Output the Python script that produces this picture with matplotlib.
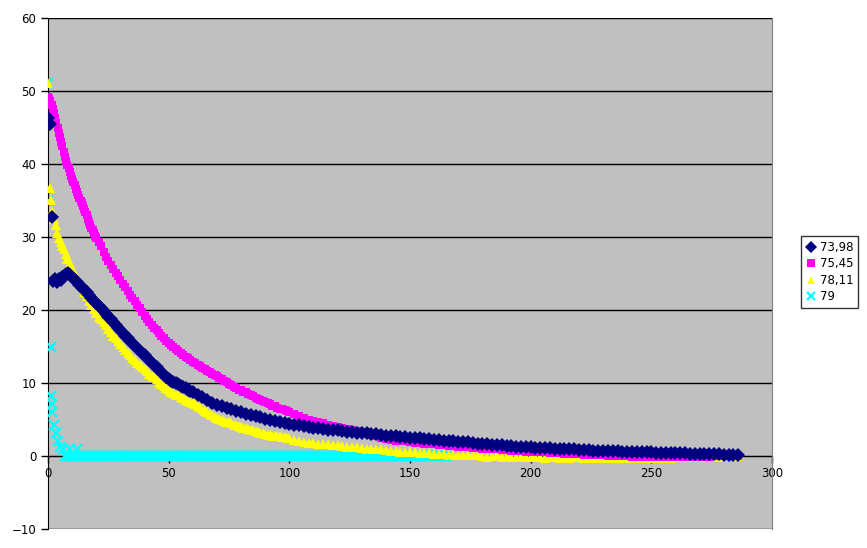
import numpy as np
import matplotlib
matplotlib.use('Agg')
import matplotlib.pyplot as plt

# ---- data ----
labels = ['73,98', '75,45', '78,11', '79']

# series 73,98 (navy): dense start, x=10..60 every 1, then every 2
navy_x_start = [0, 0.8, 1.5, 2.2, 3.0, 3.7, 4.4, 5.2, 6.0, 6.8, 7.5, 8.3, 9.1]
navy_y_start = [46.3, 45.5, 32.8, 24.0, 24.3, 23.9, 24.3, 24.1, 24.5, 24.7, 24.9, 25.1, 24.8]
navy_y_mid = [24.5, 24.15, 23.8, 23.45, 23.1, 22.75, 22.4, 22.0, 21.6, 21.25,
              20.9, 20.6, 20.3, 19.9, 19.5, 19.1, 18.7, 18.3, 17.9, 17.55,
              17.2, 16.85, 16.5, 16.15, 15.8, 15.45, 15.1, 14.75, 14.4, 14.1,
              13.8, 13.45, 13.1, 12.8, 12.5, 12.15, 11.8, 11.45, 11.1, 10.8,
              10.5, 10.3, 10.1, 9.95, 9.8, 9.65, 9.5, 9.3, 9.1, 8.95,
              8.8]
navy_y = [8.4, 8.1, 7.7, 7.3,
          7.0, 6.8, 6.6, 6.4, 6.2, 6.0, 5.8, 5.65, 5.5, 5.3,
          5.1, 5.0, 4.8, 4.7, 4.5, 4.4, 4.3, 4.2, 4.1, 4.0,
          3.9, 3.8, 3.7, 3.6, 3.55, 3.5, 3.4, 3.35, 3.3, 3.2,
          3.15, 3.1, 3.0, 2.95, 2.9, 2.8, 2.75, 2.7, 2.6, 2.55,
          2.5, 2.45, 2.4, 2.35, 2.3, 2.2, 2.15, 2.1, 2.05, 2.0,
          1.95, 1.9, 1.85, 1.8, 1.7, 1.65, 1.6, 1.55, 1.5, 1.45,
          1.4, 1.35, 1.3, 1.3, 1.25, 1.2, 1.15, 1.1, 1.1, 1.05,
          1.0, 1.0, 0.95, 0.9, 0.9, 0.85, 0.8, 0.8, 0.75, 0.75,
          0.7, 0.7, 0.65, 0.65, 0.6, 0.6, 0.55, 0.55, 0.5, 0.5,
          0.5, 0.45, 0.45, 0.4, 0.4, 0.4, 0.35, 0.35, 0.3, 0.3,
          0.3, 0.3, 0.25, 0.25, 0.25, 0.2, 0.2, 0.2, 0.2]

# series 75,45 (magenta): x=0..20 every 0.5, x=21..100 every 1, then every 2
magenta_y_start = [49.2, 48.9, 48.6, 48.1, 47.6, 47.0, 46.3, 45.6, 45.0, 44.3,
                   43.7, 43.0, 42.4, 41.7, 41.0, 40.4, 39.9, 39.4, 38.9, 38.4,
                   38.0, 37.5, 37.1, 36.6, 36.2, 35.8, 35.4, 35.0, 34.6, 34.2,
                   33.8, 33.4, 33.0, 32.5, 32.1, 31.7, 31.3, 30.9, 30.6, 30.2,
                   29.9]
magenta_y_mid = [29.3, 28.7, 28.0, 27.3, 26.7, 26.2, 25.6, 25.1, 24.6, 24.1,
                 23.6, 23.1, 22.6, 22.1, 21.6, 21.2, 20.7, 20.3, 19.7, 19.2,
                 18.8, 18.4, 18.0, 17.6, 17.2, 16.8, 16.4, 16.1, 15.8, 15.5,
                 15.2, 15.0, 14.7, 14.4, 14.1, 13.9, 13.6, 13.4, 13.1, 12.9,
                 12.7, 12.5, 12.3, 12.1, 11.9, 11.7, 11.5, 11.3, 11.1, 10.9,
                 10.7, 10.5, 10.3, 10.1, 9.9, 9.7, 9.5, 9.3, 9.1, 9.0,
                 8.8, 8.7, 8.5, 8.4, 8.2, 8.0, 7.8, 7.7, 7.5, 7.4,
                 7.2, 7.1, 6.9, 6.8, 6.6, 6.5, 6.4, 6.3, 6.1, 6.0]
magenta_y = [5.7, 5.5, 5.2, 5.0, 4.8, 4.6, 4.5, 4.3, 4.1,
             4.0, 3.8, 3.7, 3.5, 3.4, 3.2, 3.1, 2.9, 2.7, 2.5,
             2.3, 2.2, 2.1, 2.0, 2.0, 1.9, 1.8, 1.8, 1.7, 1.6,
             1.6, 1.5, 1.5, 1.4, 1.4, 1.3, 1.3, 1.2, 1.1, 1.1,
             1.0, 1.0, 0.9, 0.9, 0.8, 0.8, 0.7, 0.7, 0.7, 0.6,
             0.6, 0.5, 0.5, 0.5, 0.4, 0.4, 0.4, 0.3, 0.3, 0.3,
             0.3, 0.2, 0.2, 0.1, 0.1, 0.1, 0.0, 0.0, 0.0, 0.0,
             0.0, -0.1, -0.1, -0.1, -0.1, -0.1, -0.2, -0.2, -0.2, -0.2,
             -0.2, -0.2, -0.2, -0.1, -0.1, -0.1, -0.1, -0.1, 0.0, 0.0,
             0.0, 0.0, 0.0, 0.0]

# series 78,11 (yellow): dense start, x=10..100 every 1, then every 2
yellow_x_start = [0, 0.7, 1.1, 1.8, 2.5, 3.2, 3.9, 4.6, 5.3, 6.0, 6.6, 7.3, 8.0, 9.0]
yellow_y_start = [51.1, 36.7, 35.1, 33.5, 32.4, 31.6, 30.6, 29.9, 29.3, 28.8, 28.3, 27.7, 27.0, 26.4]
yellow_y_mid = [25.6, 24.9, 24.3, 23.7, 23.1, 22.5, 21.9, 21.3, 20.7, 20.1,
                19.6, 19.1, 18.7, 18.3, 17.9, 17.4, 17.0, 16.5, 16.1, 15.7,
                15.3, 14.9, 14.5, 14.1, 13.8, 13.4, 13.1, 12.8, 12.5, 12.2,
                11.9, 11.6, 11.3, 11.0, 10.8, 10.5, 10.2, 9.9, 9.6, 9.3,
                9.0, 8.8, 8.6, 8.4, 8.3, 8.1, 7.9, 7.7, 7.6, 7.4,
                7.3, 7.1, 6.9, 6.7, 6.5, 6.2, 6.0, 5.8, 5.6, 5.4,
                5.2, 5.1, 5.0, 4.8, 4.7, 4.6, 4.5, 4.3, 4.2, 4.1,
                4.0, 3.9, 3.8, 3.7, 3.6, 3.5, 3.4, 3.3, 3.2, 3.1,
                3.0, 2.9, 2.9, 2.8, 2.8, 2.7, 2.7, 2.6, 2.6, 2.5,
                2.4]
yellow_y = [2.2, 2.0, 1.9, 1.8,
            1.8, 1.7, 1.7, 1.6, 1.5, 1.5, 1.4, 1.3, 1.3, 1.2,
            1.1, 1.0, 1.0, 0.9, 0.9, 0.8, 0.7, 0.7, 0.6, 0.6,
            0.5, 0.5, 0.4, 0.4, 0.4, 0.3, 0.3, 0.3, 0.2, 0.2,
            0.2, 0.1, 0.1, 0.1, 0.1, 0.0, -0.1, 0.0, 0.1, -0.1,
            0.0, -0.2, -0.1, 0.0, -0.2, -0.1, -0.2, -0.1, -0.3, -0.2,
            -0.1, -0.3, -0.2, -0.3, -0.1, -0.2, -0.3, -0.2, -0.3, -0.3,
            -0.2, -0.3, -0.2, -0.3, -0.2, -0.3, -0.2, -0.3, -0.3, -0.2,
            -0.3, -0.2, -0.3, -0.2, -0.3, -0.2, -0.1, 0.0, -0.2, 0.3,
            -0.1, 0.4, 0.0, 0.3, -0.2, 0.4, 0.1, 0.3, 0.0]

# series 79 (cyan): scattered start, then flat at zero up to ~165
cyan_x_start = [0, 0, 0, 1.1, 1.4, 1.6, 1.8, 2.6, 3.2, 4.1, 5.1, 6.2, 9.3, 12.0]
cyan_y_start = [51.1, 35.0, 24.0, 15.0, 8.2, 7.1, 6.0, 4.3, 3.2, 2.1, 1.3, 0.95, 0.9, 1.0]
cyan_y = [0.0] * 159   # x = 7 .. 165

# ---- figure ----
fig = plt.figure(figsize=(8.67, 5.48), dpi=100)
ax = fig.add_axes([48 / 867, 19 / 548, 724 / 867, 511 / 548])
ax.set_facecolor('#C0C0C0')

def steps(start, values, step=2):
    return list(start + step * np.arange(len(values)))

ax.plot(cyan_x_start + steps(7, cyan_y, 1), cyan_y_start + cyan_y,
        ls='none', marker='x', ms=6.5, mew=1.6, color='#00FFFF', zorder=3, label=labels[3])
ax.plot(yellow_x_start + steps(10, yellow_y_mid, 1) + steps(102, yellow_y),
        yellow_y_start + yellow_y_mid + yellow_y,
        ls='none', marker='^', ms=7.5, mew=0, color='#FFFF00', zorder=4, label=labels[2])
ax.plot(steps(0, magenta_y_start, 0.5) + steps(21, magenta_y_mid, 1) + steps(102, magenta_y),
        magenta_y_start + magenta_y_mid + magenta_y,
        ls='none', marker='s', ms=6.3, mew=0, color='#FF00FF', zorder=5, label=labels[1])
ax.plot(navy_x_start + steps(10, navy_y_mid, 1) + steps(62, navy_y),
        navy_y_start + navy_y_mid + navy_y,
        ls='none', marker='D', ms=7, mew=0, color='#000080', zorder=6, label=labels[0])

ax.set_xlim(0, 300)
ax.set_ylim(-10, 60)
ax.set_xticks(range(0, 301, 50))
ax.set_yticks(range(-10, 61, 10))
ax.yaxis.grid(True, color='black', lw=1)
ax.set_axisbelow(True)

ax.spines['bottom'].set_position(('data', 0))
ax.spines['left'].set_position(('data', 0))
ax.spines['top'].set_visible(False)
ax.spines['right'].set_color('#808080')
for s in ['bottom', 'left']:
    ax.spines[s].set_color('black')
    ax.spines[s].set_zorder(2)
ax.tick_params(direction='out', length=5, width=1, labelsize=8.5, colors='black')
ax.tick_params(axis='x', pad=3)

handles, labs = ax.get_legend_handles_labels()
leg = fig.legend(handles[::-1], labs[::-1], loc='upper left',
                 bbox_to_anchor=(801 / 867, 1 - 236 / 548), borderaxespad=0,
                 fontsize=8.5, frameon=True, fancybox=False, edgecolor='black',
                 handlelength=0.9, handletextpad=0.3, borderpad=0.4, labelspacing=0.3)
leg.get_frame().set_linewidth(1)
for h in leg.legend_handles:
    h.set_markersize(6)

fig.savefig('out.png', dpi=100)
